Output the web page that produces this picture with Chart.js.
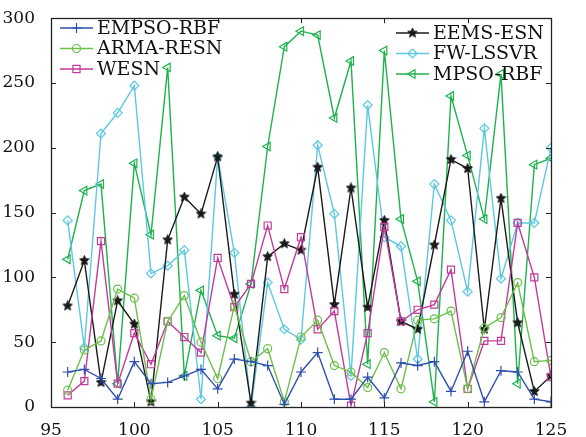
<!DOCTYPE html>
<html>
<head>
<meta charset="utf-8">
<script src="https://cdn.jsdelivr.net/npm/chart.js@4/dist/chart.umd.min.js"></script>
<style>
  html, body { margin: 0; padding: 0; background: #fff; }
  #wrap { width: 586px; height: 437px; }
</style>
</head>
<body>
<div id="wrap"><canvas id="chart"></canvas></div>
<script>
// x positions of the samples
const samples = [96, 97, 98, 99, 100, 101, 102, 103, 104, 105, 106, 107, 108, 109, 110,
                 111, 112, 113, 114, 115, 116, 117, 118, 119, 120, 121, 122, 123, 124, 125];

const empsoRbf = [27, 29, 22, 6, 35, 18, 19, 24, 29, 14, 37, 35, 32, 2, 27,
                  42, 6, 6, 23, 7, 34, 32, 35, 12, 43, 4, 28, 27, 6, 4];
const armaResn = [13, 44, 51, 91, 84, 6, 66, 86, 50, 22, 78, 35, 45, 4, 54,
                  67, 32, 27, 15, 42, 14, 67, 68, 74, 14, 61, 69, 96, 35, 36];
const wesn     = [9, 20, 128, 18, 57, 33, 66, 54, 42, 115, 77, 95, 140, 91, 131,
                  60, 74, 1, 57, 139, 66, 75, 79, 106, 14, 51, 51, 142, 100, 23];
const eemsEsn  = [78, 113, 19, 82, 64, 4, 129, 162, 149, 193, 87, 3, 116, 126, 121,
                  185, 79, 169, 77, 144, 66, 60, 125, 191, 184, 60, 161, 65, 12, 24];
const fwLssvr  = [144, 46, 211, 227, 248, 103, 109, 121, 6, 193, 119, 0, 96, 60, 52,
                  202, 149, 24, 233, 131, 124, 37, 172, 144, 89, 215, 99, 142, 142, 200];
const mpsoRbf  = [114, 167, 172, 18, 188, 133, 262, 24, 90, 55, 53, 95, 201, 278, 290,
                  287, 223, 267, 33, 275, 145, 97, 4, 240, 194, 145, 257, 18, 187, 192];

const xTicks = [95, 100, 105, 110, 115, 120, 125];
const yTicks = [0, 50, 100, 150, 200, 250, 300];

// filled five point star marker
function makeStar(size, color) {
    const c = document.createElement('canvas');
    c.width = size; c.height = size;
    const g = c.getContext('2d');
    const r1 = size / 2 - 0.5, r2 = r1 * 0.45;
    g.beginPath();
    for (let i = 0; i < 10; i++) {
        const r = i % 2 === 0 ? r1 : r2;
        const a = -Math.PI / 2 + i * Math.PI / 5;
        const px = size / 2 + r * Math.cos(a), py = size / 2 + r * Math.sin(a);
        if (i === 0) g.moveTo(px, py); else g.lineTo(px, py);
    }
    g.closePath();
    g.fillStyle = color;
    g.fill();
    g.lineWidth = 1;
    g.strokeStyle = color;
    g.stroke();
    return c;
}
const starImg = makeStar(11, '#1a1a1a');

function series(label, values, color, style, radius, rotation) {
    return {
        label: label,
        data: samples.map((x, i) => ({ x: x, y: values[i] })),
        borderColor: color,
        backgroundColor: 'rgba(0,0,0,0)',
        pointBorderColor: color,
        pointBackgroundColor: 'rgba(0,0,0,0)',
        pointStyle: style,
        pointRadius: radius,
        pointRotation: rotation || 0,
        pointBorderWidth: 1.2,
        borderWidth: 1.4,
        tension: 0
    };
}

const datasets = [
    series('EMPSO-RBF', empsoRbf, '#2f4fae', 'cross', 5),
    series('ARMA-RESN', armaResn, '#6cc04a', 'circle', 4),
    series('WESN', wesn, '#c13b9d', 'rect', 5),
    series('EEMS-ESN', eemsEsn, '#1a1a1a', starImg, 5),
    series('FW-LSSVR', fwLssvr, '#5cc8e3', 'rectRot', 4.5),
    series('MPSO-RBF', mpsoRbf, '#1db24b', 'triangle', 5, -90)
];

const serif = '"DejaVu Serif", "Liberation Serif", serif';

// frame, inward ticks and the two legend boxes
const framePlugin = {
    id: 'frame',
    afterDraw(chart) {
        const ctx = chart.ctx;
        const a = chart.chartArea;
        const xs = chart.scales.x, ys = chart.scales.y;
        ctx.save();
        ctx.strokeStyle = '#222';
        ctx.lineWidth = 1;
        ctx.beginPath();
        xTicks.forEach(v => {
            const px = Math.round(xs.getPixelForValue(v)) + 0.5;
            ctx.moveTo(px, a.bottom); ctx.lineTo(px, a.bottom - 5);
            ctx.moveTo(px, a.top); ctx.lineTo(px, a.top + 5);
        });
        yTicks.forEach(v => {
            const py = Math.round(ys.getPixelForValue(v)) + 0.5;
            ctx.moveTo(a.left, py); ctx.lineTo(a.left + 5, py);
            ctx.moveTo(a.right, py); ctx.lineTo(a.right - 5, py);
        });
        ctx.stroke();
        ctx.lineWidth = 1.3;
        ctx.strokeRect(Math.round(a.left) + 0.5, Math.round(a.top) + 0.5,
                       Math.round(a.right - a.left), Math.round(a.bottom - a.top));

        const drawLegend = (items, x0, y0) => {
            items.forEach((ds, k) => {
                const y = y0 + k * 20.5;
                ctx.strokeStyle = ds.borderColor;
                ctx.lineWidth = 1.4;
                ctx.beginPath();
                ctx.moveTo(x0, y); ctx.lineTo(x0 + 33, y);
                ctx.stroke();
                ctx.lineWidth = 1.2;
                ctx.fillStyle = 'rgba(0,0,0,0)';
                Chart.helpers.drawPoint(ctx, {
                    pointStyle: ds.pointStyle,
                    radius: ds.pointRadius,
                    rotation: ds.pointRotation,
                    borderWidth: 1.2
                }, x0 + 16.5, y);
                ctx.fillStyle = '#111';
                ctx.font = '19px ' + serif;
                ctx.textBaseline = 'middle';
                ctx.textAlign = 'left';
                ctx.fillText(ds.label, x0 + 37, y + 1);
            });
        };
        const ds = chart.data.datasets;
        drawLegend(ds.slice(0, 3), 60, 28);
        drawLegend(ds.slice(3, 6), 396, 33);
        ctx.restore();
    }
};

new Chart(document.getElementById('chart').getContext('2d'), {
    type: 'line',
    data: { datasets: datasets },
    options: {
        responsive: true,
        maintainAspectRatio: false,
        animation: false,
        layout: { padding: { top: 15, right: 35, left: 0, bottom: 0 } },
        plugins: { legend: { display: false }, tooltip: { enabled: false } },
        scales: {
            x: {
                type: 'linear',
                min: 95,
                max: 125,
                afterBuildTicks: s => { s.ticks = xTicks.map(v => ({ value: v })); },
                afterFit: s => { s.height = 30; },
                grid: { display: false },
                border: { display: false },
                ticks: { color: '#111', font: { family: serif, size: 17 }, padding: 5, maxRotation: 0 }
            },
            y: {
                min: 0,
                max: 300,
                afterBuildTicks: s => { s.ticks = yTicks.map(v => ({ value: v })); },
                afterFit: s => { s.width = 51; },
                grid: { display: false },
                border: { display: false },
                ticks: { color: '#111', font: { family: serif, size: 17 }, padding: 8 }
            }
        }
    },
    plugins: [framePlugin]
});
</script>
</body>
</html>
